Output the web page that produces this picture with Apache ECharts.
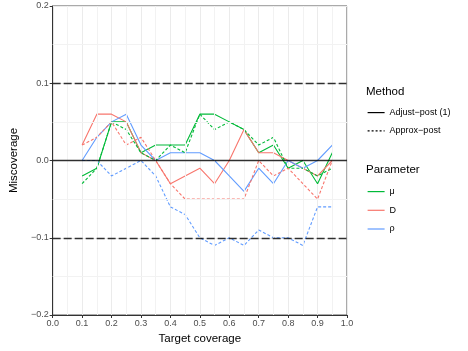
<!DOCTYPE html>
<html>
<head>
<meta charset="utf-8">
<script src="https://cdn.jsdelivr.net/npm/echarts@6/dist/echarts.min.js"></script>
<style>
  html, body { margin: 0; padding: 0; background: #fff; }
  #chart { width: 468px; height: 351px; }
</style>
</head>
<body>
<div id="chart"></div>
<script>
// target coverage levels
const coverage = [0.1, 0.15, 0.2, 0.25, 0.3, 0.35, 0.4, 0.45, 0.5, 0.55, 0.6, 0.65, 0.7, 0.75, 0.8, 0.85, 0.9, 0.95]

// miscoverage, Adjust-post (1)
const muAdjust = [-0.02, -0.01, 0.05, 0.05, 0.01, 0.02, 0.02, 0.02, 0.06, 0.06, 0.05, 0.04, 0.01, 0.02, -0.01, 0.00, -0.03, 0.01]
const dAdjust = [0.02, 0.06, 0.06, 0.05, 0.01, 0.00, -0.03, -0.02, -0.01, -0.03, 0.00, 0.04, 0.01, 0.01, 0.00, -0.01, -0.02, 0.00]
const rhoAdjust = [0.00, 0.03, 0.05, 0.06, 0.02, 0.00, 0.01, 0.01, 0.01, 0.00, -0.02, -0.04, -0.01, -0.03, 0.00, -0.01, 0.00, 0.02]

// miscoverage, Approx-post
const muApprox = [-0.03, -0.01, 0.05, 0.04, 0.01, 0.00, 0.02, 0.01, 0.06, 0.04, 0.05, 0.04, 0.02, 0.03, -0.01, -0.01, -0.02, -0.01]
const dApprox = [0.02, 0.03, 0.05, 0.02, 0.03, 0.00, -0.03, -0.05, -0.05, -0.05, -0.05, -0.05, 0.00, -0.02, -0.01, -0.03, -0.05, 0.00]
const rhoApprox = [0.00, 0.00, -0.02, -0.01, 0.00, -0.02, -0.06, -0.07, -0.10, -0.11, -0.10, -0.11, -0.09, -0.10, -0.10, -0.11, -0.06, -0.06]

const xTicks = [0, 0.1, 0.2, 0.3, 0.4, 0.5, 0.6, 0.7, 0.8, 0.9, 1.0]
const yTicks = [-0.2, -0.1, 0, 0.1, 0.2]
const xMinor = [0.05, 0.15, 0.25, 0.35, 0.45, 0.55, 0.65, 0.75, 0.85, 0.95]
const yMinor = [-0.15, -0.05, 0.05, 0.15]
const refLines = [-0.1, 0, 0.1]

const methodNames = ['Adjust\u2212post (1)', 'Approx\u2212post']
const paramNames = ['\u03bc', 'D', '\u03c1']

const FONT = '"Liberation Sans", Arial, sans-serif'
const colors = {'\u03bc': '#00BA38', 'D': '#F8766D', '\u03c1': '#619CFF'}

const pair = vals => coverage.map((x, i) => [x, vals[i]])
const fmt = v => v.toFixed(1).replace('-', '\u2212')

function lineSeries(name, vals, dashed) {
  return {
    name: name,
    type: 'line',
    symbol: 'none',
    data: pair(vals),
    color: colors[name],
    lineStyle: {width: 1.1, color: colors[name], type: dashed ? [3, 2] : 'solid'},
    z: 3
  }
}

function legendBlock(names, top, gap) {
  return {
    data: names,
    orient: 'vertical',
    left: 367,
    top: top,
    padding: 0,
    itemWidth: 17,
    itemHeight: 14,
    itemGap: gap,
    itemStyle: {opacity: 0},
    lineStyle: {width: 1.2},
    textStyle: {fontSize: 9, color: '#000', fontFamily: FONT},
    selectedMode: false
  }
}

function axisBase(name, gap) {
  return {
    type: 'value',
    interval: 0.1,
    name: name,
    nameLocation: 'middle',
    nameGap: gap,
    nameTextStyle: {fontSize: 11.5, color: '#000', fontFamily: FONT},
    axisLine: {show: true, onZero: false, lineStyle: {color: '#333', width: 1}},
    axisTick: {show: true, length: 3, lineStyle: {color: '#333'}},
    axisLabel: {fontSize: 9, color: '#4D4D4D', margin: 4, formatter: fmt},
    splitLine: {show: true, lineStyle: {color: '#EBEBEB', width: 1}}
  }
}

let myChart = echarts.init(document.getElementById('chart'))

myChart.setOption({
  animation: false,
  textStyle: {fontFamily: FONT},
  grid: {left: 45, right: 121, top: 6, bottom: 36, show: true, borderColor: '#555', borderWidth: 1},
  xAxis: Object.assign(axisBase('Target coverage', 17), {min: xTicks[0], max: xTicks[xTicks.length - 1]}),
  yAxis: Object.assign(axisBase('Miscoverage', 31), {min: yTicks[0], max: yTicks[yTicks.length - 1]}),
  legend: [legendBlock(methodNames, 107, 7), legendBlock(paramNames, 186, 7.5)],
  graphic: [
    {type: 'text', left: 366, top: 86, style: {text: 'Method', font: '11.5px ' + FONT, fill: '#000'}},
    {type: 'text', left: 366, top: 164, style: {text: 'Parameter', font: '11.5px ' + FONT, fill: '#000'}}
  ],
  series: [
    // minor grid
    {
      type: 'line',
      data: [],
      z: 1,
      markLine: {
        silent: true,
        symbol: 'none',
        label: {show: false},
        lineStyle: {color: '#F2F2F2', width: 1, type: 'solid'},
        data: xMinor.map(v => ({xAxis: v})).concat(yMinor.map(v => ({yAxis: v})))
      }
    },
    // legend-only entries for the line type
    {name: methodNames[0], type: 'line', symbol: 'none', data: [], color: '#000', lineStyle: {color: '#000', width: 1.1, type: 'solid'}},
    {name: methodNames[1], type: 'line', symbol: 'none', data: [], color: '#000', lineStyle: {color: '#000', width: 1.1, type: [2, 2]}},
    lineSeries('\u03bc', muAdjust, false),
    lineSeries('D', dAdjust, false),
    lineSeries('\u03c1', rhoAdjust, false),
    lineSeries('\u03bc', muApprox, true),
    lineSeries('D', dApprox, true),
    lineSeries('\u03c1', rhoApprox, true),
    {
      type: 'line',
      data: [],
      z: 4,
      markLine: {
        silent: true,
        symbol: 'none',
        label: {show: false},
        data: refLines.map(v => ({
          yAxis: v,
          lineStyle: {color: '#000', width: 1.3, type: v === 0 ? 'solid' : [8, 3], opacity: 0.8}
        }))
      }
    }
  ]
})
</script>
</body>
</html>
